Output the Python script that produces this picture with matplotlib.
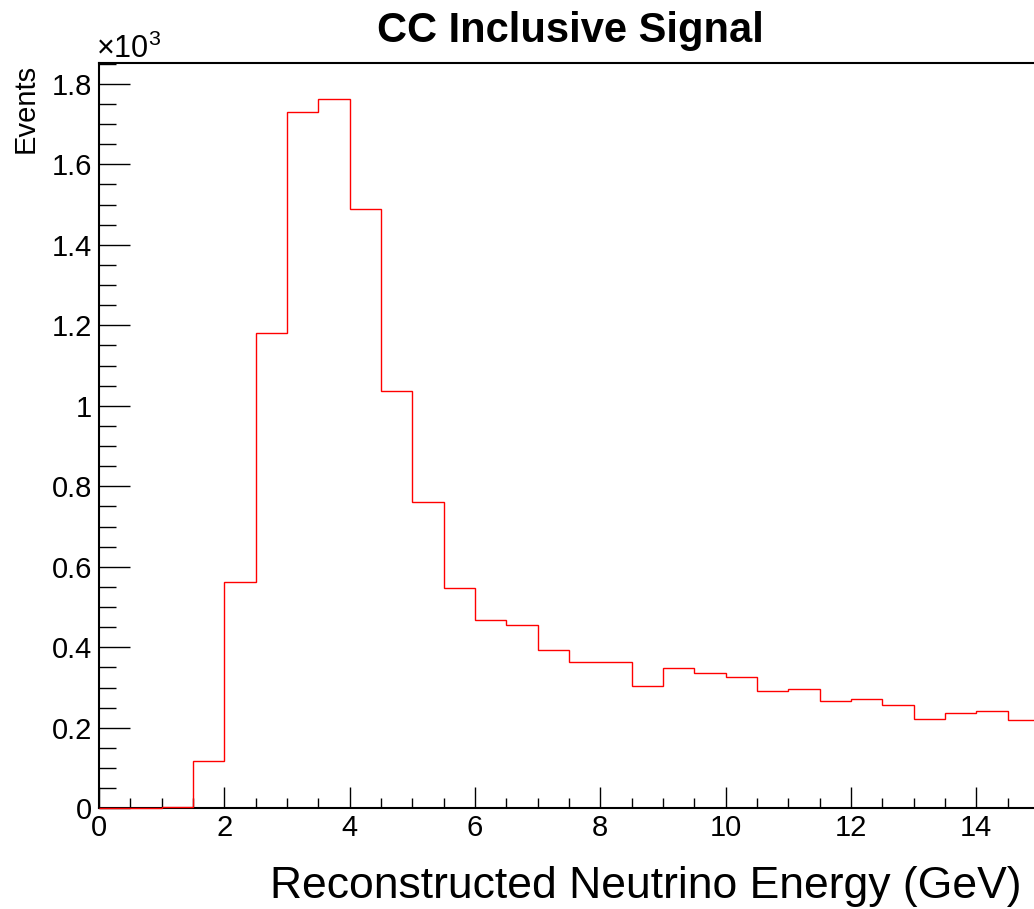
import matplotlib
matplotlib.use("Agg")
import matplotlib.pyplot as plt
import numpy as np
from matplotlib.ticker import MultipleLocator

plt.rcParams['font.family'] = ['Liberation Sans', 'DejaVu Sans']
plt.rcParams['mathtext.fontset'] = 'custom'
plt.rcParams['mathtext.rm'] = 'Liberation Sans'
plt.rcParams['mathtext.it'] = 'Liberation Sans:italic'

# Histogram data (events in units of 10^3), bin width 0.5 GeV
bin_edges = [i * 0.5 for i in range(31)]
counts = [0.0, 0.0, 0.004, 0.118, 0.562, 1.181, 1.731, 1.762, 1.488, 1.037,
          0.761, 0.548, 0.468, 0.455, 0.393, 0.363, 0.364, 0.303, 0.348, 0.336,
          0.325, 0.292, 0.296, 0.267, 0.272, 0.256, 0.222, 0.236, 0.242, 0.219]
x_ticks = [0, 2, 4, 6, 8, 10, 12, 14]
y_ticks = [0, 0.2, 0.4, 0.6, 0.8, 1.0, 1.2, 1.4, 1.6, 1.8]
y_tick_labels = ['0', '0.2', '0.4', '0.6', '0.8', '1', '1.2', '1.4', '1.6', '1.8']

W, H = 1034, 909
fig = plt.figure(figsize=(W / 100, H / 100), dpi=100)
ax = fig.add_axes([99 / W, (H - 808.3) / H, (1039 - 99) / W, (808.3 - 63.3) / H])

ax.stairs(counts, bin_edges, color='red', linewidth=1.0, zorder=3, clip_on=False)

ax.set_xlim(0, 15)
ax.set_ylim(0, 1.851)
ax.set_xticks(x_ticks)
ax.set_xticklabels([str(t) for t in x_ticks])
ax.set_yticks(y_ticks)
ax.set_yticklabels(y_tick_labels)
ax.xaxis.set_minor_locator(MultipleLocator(0.5))
ax.yaxis.set_minor_locator(MultipleLocator(0.05))

ax.tick_params(axis='both', which='both', direction='in', top=False, right=False,
               width=1.0, color='black')
ax.tick_params(axis='x', which='major', length=15, pad=4, labelsize=21)
ax.tick_params(axis='x', which='minor', length=7.5)
ax.tick_params(axis='y', which='major', length=22, pad=5, labelsize=21)
ax.tick_params(axis='y', which='minor', length=12)
for s in ax.spines.values():
    s.set_linewidth(1.5)

fig.text(570 / W, 1 - 31 / H, 'CC Inclusive Signal', ha='center', va='center',
         fontsize=30, fontweight='bold')
fig.text(1022 / W, 1 - 898 / H, 'Reconstructed Neutrino Energy (GeV)', ha='right',
         va='baseline', fontsize=32)
fig.text(26 / W, 1 - 64 / H, 'Events', rotation=90, ha='center', va='top', fontsize=21)
fig.text(96 / W, 1 - 58 / H, r'$\times10^{3}$', ha='left', va='baseline', fontsize=22)

fig.savefig('out.png', dpi=100)
